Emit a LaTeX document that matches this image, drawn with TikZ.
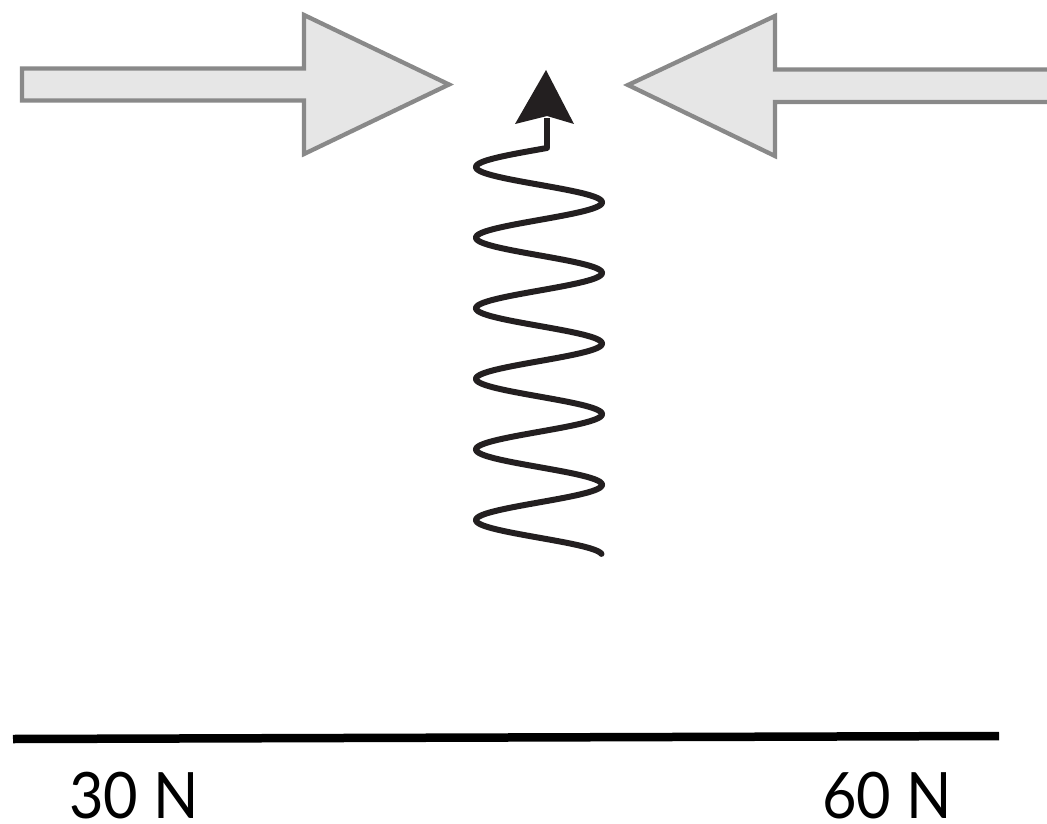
\documentclass[tikz,border=0pt]{standalone}
\usepackage{fontspec}
\setmainfont{Lato}[FakeStretch=0.93]
\definecolor{arrowfill}{HTML}{E6E6E6}
\definecolor{arrowline}{HTML}{898989}
\definecolor{ink}{HTML}{231F20}
\begin{document}
\begin{tikzpicture}[x=1pt,y=-1pt,
  bigarrow/.style={draw=arrowline,fill=arrowfill,line width=4.3pt,line join=miter},
  springline/.style={draw=ink,line width=6pt,line cap=round},
  label/.style={font=\fontsize{64}{64}\selectfont,inner sep=0pt,text depth=0pt,anchor=base west}]
\clip (0,0) rectangle (1047,824);
\fill[white] (0,0) rectangle (1047,824);
% left arrow
\draw[bigarrow] (22,68.5) -- (304,68.5) -- (304,15) -- (449,84.5) -- (304,154) -- (304,100.5) -- (22,100.5) -- cycle;
% right arrow
\draw[bigarrow] (1060,69.5) -- (775,69.5) -- (775,16) -- (628,85) -- (775,156) -- (775,102) -- (1060,102) -- cycle;
% spring
\coordinate (stemtop) at (547,118);
\coordinate (stembot) at (547,148);
\draw[springline] plot[domain=-0.127:36.0,samples=700,variable=\t] ({539-63*sin(\t r)},{149.4+\t*35.3/pi});
\draw[draw=ink,line width=6pt] (stembot) -- (stemtop);
\fill[ink] (546,70) -- (574,124) -- (547,116) -- (515,124) -- cycle;
% baseline
\coordinate (lineL) at (13,739);
\coordinate (lineR) at (999,736);
\draw[black,line width=8.5pt] (lineL) -- (lineR);
\node[label] (l30) at (69,818) {30 N};
\node[label] (l60) at (822,818) {60 N};
\end{tikzpicture}
\end{document}
